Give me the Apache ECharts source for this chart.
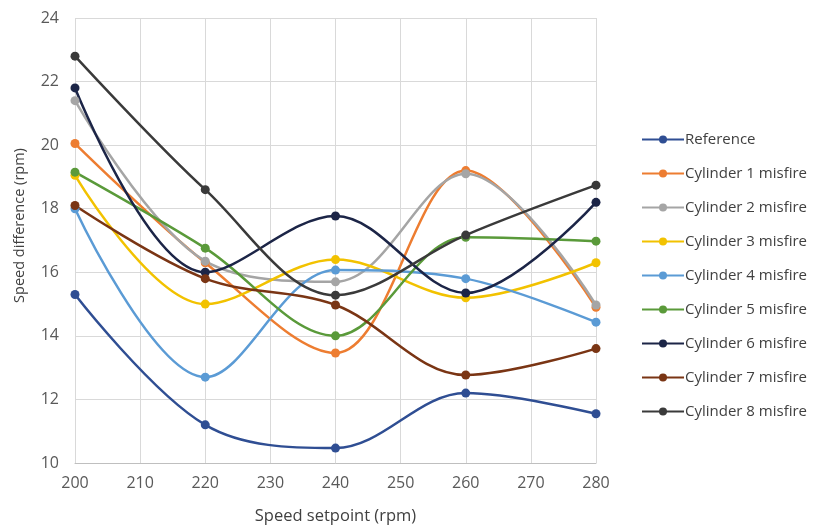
<!DOCTYPE html>
<html>
<head>
<meta charset="utf-8">
<script src="https://cdn.jsdelivr.net/npm/echarts@6/dist/echarts.min.js"></script>
<style>
  html, body { margin: 0; padding: 0; background: #ffffff; }
  #chart { width: 817px; height: 528px; }
</style>
</head>
<body>
<div id="chart"></div>
<script>
// Speed setpoints (rpm) on the x axis
const setpoints = [200, 220, 240, 260, 280];

// Speed difference (rpm) for each run
const reference = [15.3, 11.2, 10.47, 12.2, 11.55];
const cyl1 = [20.05, 16.3, 13.46, 19.2, 14.9];
const cyl2 = [21.4, 16.35, 15.7, 19.1, 14.97];
const cyl3 = [19.05, 15.0, 16.4, 15.2, 16.3];
const cyl4 = [18.0, 12.7, 16.07, 15.8, 14.43];
const cyl5 = [19.15, 16.76, 14.0, 17.1, 16.98];
const cyl6 = [21.8, 16.0, 17.77, 15.35, 18.2];
const cyl7 = [18.1, 15.8, 14.97, 12.77, 13.6];
const cyl8 = [22.8, 18.6, 15.28, 17.17, 18.74];

const seriesNames = [
  'Reference', 'Cylinder 1 misfire', 'Cylinder 2 misfire', 'Cylinder 3 misfire',
  'Cylinder 4 misfire', 'Cylinder 5 misfire', 'Cylinder 6 misfire',
  'Cylinder 7 misfire', 'Cylinder 8 misfire'
];
const seriesValues = [reference, cyl1, cyl2, cyl3, cyl4, cyl5, cyl6, cyl7, cyl8];
const seriesColors = [
  '#2F4E93', '#ED7D31', '#A5A5A5', '#F2C200', '#5B9BD5',
  '#5A9A3A', '#1C2547', '#7A3514', '#3A3A3A'
];

const yTicks = { min: 10, max: 24, interval: 2 };
const xTicks = { min: 200, max: 280, interval: 10 };

const font = 'Open Sans, Liberation Sans, sans-serif';

const chart = echarts.init(document.getElementById('chart'), null, { renderer: 'canvas' });

chart.setOption({
  backgroundColor: '#ffffff',
  animation: false,
  grid: { left: 75, right: 221, top: 18, bottom: 65, containLabel: false, outerBoundsMode: 'none' },
  legend: {
    orient: 'vertical',
    left: 636,
    top: 127,
    itemWidth: 42,
    itemHeight: 10,
    itemGap: 19,
    textStyle: { fontFamily: font, fontSize: 15, color: '#404040', padding: [0, 0, 0, -4] },
    data: seriesNames
  },
  xAxis: {
    type: 'value',
    min: xTicks.min,
    max: xTicks.max,
    interval: xTicks.interval,
    name: 'Speed setpoint (rpm)',
    nameLocation: 'middle',
    nameGap: 45,
    nameTextStyle: { fontFamily: font, fontSize: 16.5, color: '#404040' },
    axisLine: { show: true, lineStyle: { color: '#BFBFBF', width: 1 } },
    axisTick: { show: false },
    axisLabel: { fontFamily: font, fontSize: 16, color: '#595959', margin: 12 },
    splitLine: { show: true, lineStyle: { color: '#D9D9D9', width: 1 } }
  },
  yAxis: {
    type: 'value',
    min: yTicks.min,
    max: yTicks.max,
    interval: yTicks.interval,
    name: 'Speed difference (rpm)',
    nameLocation: 'middle',
    nameGap: 48,
    nameTextStyle: { fontFamily: font, fontSize: 14.5, color: '#404040', padding: [0, 0, 0, 30] },
    axisLine: { show: false },
    axisTick: { show: false },
    axisLabel: { fontFamily: font, fontSize: 16, color: '#595959', margin: 16 },
    splitLine: { show: true, lineStyle: { color: '#D9D9D9', width: 1 } }
  },
  series: seriesNames.map((name, i) => ({
    name: name,
    type: 'line',
    smooth: 0.35,
    symbol: 'circle',
    symbolSize: 9,
    color: seriesColors[i],
    lineStyle: { width: 2.5, color: seriesColors[i] },
    itemStyle: { color: seriesColors[i] },
    data: setpoints.map((x, j) => [x, seriesValues[i][j]])
  }))
});
</script>
</body>
</html>
